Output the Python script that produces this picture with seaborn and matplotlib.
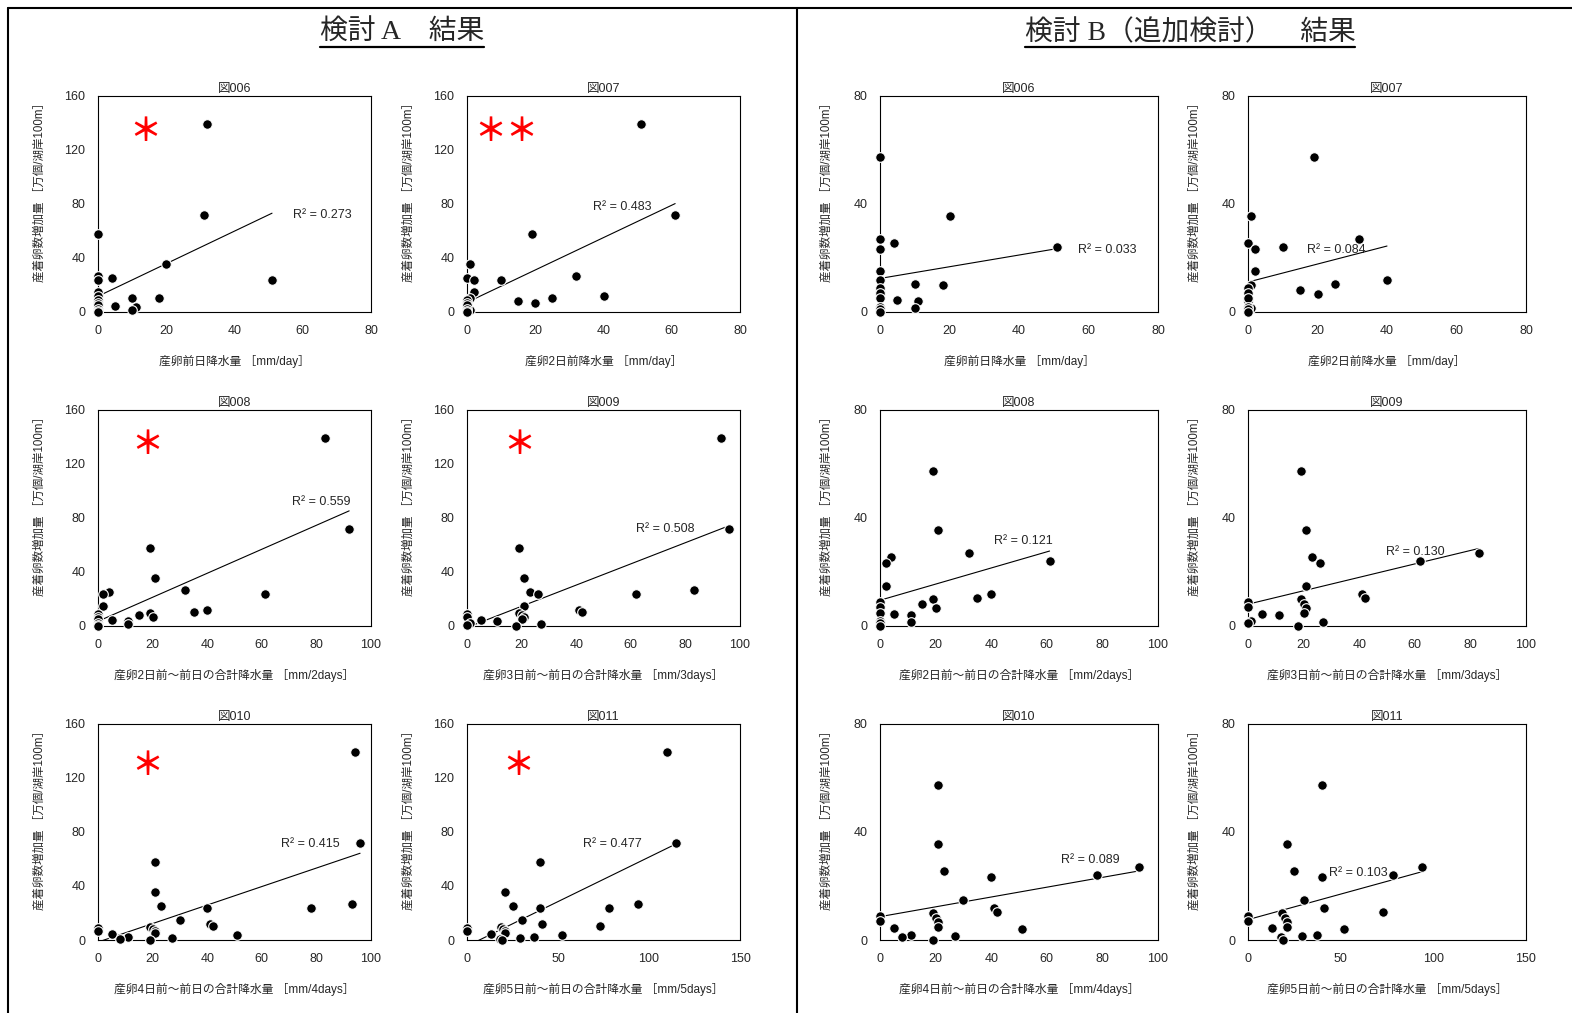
import pandas as pd
import seaborn as sns
import matplotlib.pyplot as plt
from matplotlib.lines import Line2D

# 産着卵数増加量 [万個/湖岸100m] -- same event order in every rainfall list
egg_increase = [139, 72, 57.5, 35.5, 27, 25.5, 24, 23.5, 15, 12, 10.5, 10, 8, 6.5,
                4.5, 4, 1.5, 9, 7, 5, 2, 1, 0]

# rainfall for each event [mm]
rain_prev_day = [32, 31, 0, 20, 0, 4, 51, 0, 0, 0, 10, 18, 0, 0, 5, 11, 10, 0, 0, 0, 0, 0, 0]
rain_2nd_day = [51, 61, 19, 1, 32, 0, 10, 2, 2, 40, 25, 1, 15, 20, 0, 0, 1, 0, 0, 0, 0, 0, 0]
rain_2days = [83, 92, 19, 21, 32, 4, 61, 2, 2, 40, 35, 19, 15, 20, 5, 11, 11, 0, 0, 0, 0, 0, 0]
rain_3days = [93, 96, 19, 21, 83, 23, 62, 26, 21, 41, 42, 19, 20, 21, 5, 11, 27, 0, 0, 20, 1, 0, 18]
rain_4days = [94, 96, 21, 21, 93, 23, 78, 40, 30, 41, 42, 19, 20, 21, 5, 51, 27, 0, 0, 21, 11, 8, 19]
rain_5days = [110, 115, 40, 21, 94, 25, 78, 40, 30, 41, 73, 18.5, 20, 21, 13, 52, 29, 0, 0, 21, 37, 18, 19]

# 検討B drops the two largest events
n_outliers = 2

fig_names = ['図006', '図007', '図008', '図009', '図010', '図011']
x_labels = ['産卵前日降水量 ［mm/day］',
            '産卵2日前降水量 ［mm/day］',
            '産卵2日前～前日の合計降水量 ［mm/2days］',
            '産卵3日前～前日の合計降水量 ［mm/3days］',
            '産卵4日前～前日の合計降水量 ［mm/4days］',
            '産卵5日前～前日の合計降水量 ［mm/5days］']
y_label = '産着卵数増加量 ［万個/湖岸100m］'
x_max = [80, 80, 100, 100, 100, 150]
r2_a = ['0.273', '0.483', '0.559', '0.508', '0.415', '0.477']
r2_b = ['0.033', '0.084', '0.121', '0.130', '0.089', '0.103']
stars_a = ['＊', '＊＊', '＊', '＊', '＊', '＊']

# layout (pixels in a 1572x1013 canvas)
W, H = 1572, 1013
row_tops = [96, 410, 724]
ax_h = 216
a_lefts, a_w = [98, 467], 273
b_lefts, b_w = [880, 1248], 278
r2_pos_a = [(57, 72), (37, 78), (71, 92), (62, 72), (67, 71), (64, 71)]
r2_pos_b = [(57, 23), (17, 23), (41, 31.5), (49.5, 27.5), (65, 29.5), (43.5, 25)]
star_pos_a = [(14, 133), (11.5, 133), (18, 134), (19, 134), (18, 129), (28, 129)]

FONT = ['Liberation Sans', 'Noto Sans CJK JP', 'DejaVu Sans']


def draw_panel(fig, rect, x, y, i, ymax, r2, r2_xy, star=None, star_xy=None):
    left, top, w, ylab_off = rect
    ax = fig.add_axes([left / W, 1 - (top + ax_h) / H, w / W, ax_h / H])
    df = pd.DataFrame({'rain': x, 'eggs': y})
    sns.regplot(data=df, x='rain', y='eggs', ax=ax, ci=None, scatter=False,
                truncate=True, line_kws={'color': 'black', 'lw': 0.8})
    sns.scatterplot(data=df, x='rain', y='eggs', ax=ax, color='black', s=48,
                    edgecolor='white', linewidth=0.8, zorder=3, clip_on=False)
    ax.set_xlim(0, x_max[i])
    ax.set_ylim(0, ymax)
    step = 50 if x_max[i] == 150 else 20
    ax.set_xticks(range(0, x_max[i] + 1, step))
    ax.set_yticks(range(0, ymax + 1, 40))
    ax.tick_params(direction='in', length=4, width=0.8, labelsize=9)
    ax.tick_params(axis='x', pad=9)
    ax.tick_params(axis='y', pad=9)
    for sp in ax.spines.values():
        sp.set_color('black')
        sp.set_linewidth(0.8)
    ax.set_title(fig_names[i], fontsize=9, pad=3)
    ax.set_xlabel(x_labels[i], fontsize=8.5, labelpad=13)
    ax.set_ylabel(y_label, fontsize=8.3)
    # label sits a bit above the middle of the axis, as in the source sheet
    ax.yaxis.set_label_coords(-ylab_off / w, 0.565)
    ax.text(r2_xy[0], r2_xy[1], 'R² = ' + r2, fontsize=9, va='center', ha='left')
    if star:
        ax.text(star_xy[0], star_xy[1], star, color='red', fontsize=23, fontweight='bold',
                ha='center', va='center', family=['Noto Sans CJK JP'])
    return ax


def underlined_title(fig, text, cx):
    t = fig.text(cx / W, 1 - 33 / H, text, fontsize=20, ha='center', va='center',
                 family=['Liberation Serif', 'Noto Sans CJK JP'])
    fig.canvas.draw()
    bb = t.get_window_extent(fig.canvas.get_renderer())
    y = bb.y0 - 1
    fig.add_artist(Line2D([bb.x0 / W, bb.x1 / W], [y / H, y / H], color='black', lw=1.6,
                          transform=fig.transFigure))


def main():
    sns.set_style('white')
    plt.rcParams['font.family'] = FONT
    plt.rcParams['axes.unicode_minus'] = False
    fig = plt.figure(figsize=(W / 100, H / 100), dpi=100)

    rain = [rain_prev_day, rain_2nd_day, rain_2days, rain_3days, rain_4days, rain_5days]
    for i in range(6):
        row, col = divmod(i, 2)
        top = row_tops[row]
        # 検討A: all events
        draw_panel(fig, (a_lefts[col], top, a_w, 52), rain[i], egg_increase, i, 160,
                   r2_a[i], r2_pos_a[i], stars_a[i], star_pos_a[i])
        # 検討B: without the two largest events
        draw_panel(fig, (b_lefts[col], top, b_w, 47), rain[i][n_outliers:],
                   egg_increase[n_outliers:], i, 80, r2_b[i], r2_pos_b[i])

    # frames around the two halves
    for xs, ys in [([8, 8], [8, H]), ([8, W], [8, 8]), ([797, 797], [8, H])]:
        fig.add_artist(Line2D([v / W for v in xs], [1 - v / H for v in ys],
                              color='black', lw=1.5, transform=fig.transFigure))

    underlined_title(fig, '検討 A　結果', 402)
    underlined_title(fig, '検討 B（追加検討）　結果', 1190)

    fig.savefig('out.png', dpi=100)


if __name__ == "__main__":
    main()
